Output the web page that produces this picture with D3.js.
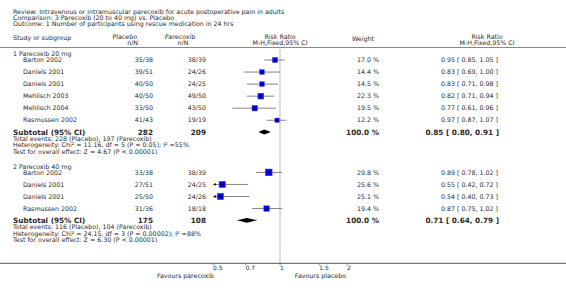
<!DOCTYPE html>
<html>
<head>
<meta charset="utf-8">
<style>
  body { margin: 0; background: #fff; }
  svg { display: block; font-family: "DejaVu Sans", Verdana, sans-serif; }
</style>
</head>
<body>
<script src="https://d3js.org/d3.v7.min.js"></script>
<svg width="566" height="293"></svg>
<script>
// 表头文字
const titleLines = [
  'Review:  Intravenous or intramuscular parecoxib for acute postoperative pain in adults',
  'Comparison:  3 Parecoxib (20 to 40 mg) vs. Placebo',
  'Outcome:  1 Number of participants using rescue medication in 24 hrs'
];

// 分组
const groupNames = ['1 Parecoxib 20 mg', '2 Parecoxib 40 mg'];
const groupPlaceboN = [282, 175];
const groupParecoxibN = [209, 108];
const groupRR = [0.85, 0.71];
const groupLow = [0.80, 0.64];
const groupHigh = [0.91, 0.79];
const groupNotes = [
  ['Total events: 228 (Placebo), 197 (Parecoxib)',
   'Heterogeneity: Chi\u00b2 = 11.16, df = 5 (P = 0.05); I\u00b2 =55%',
   'Test for overall effect: Z = 4.67 (P < 0.00001)'],
  ['Total events: 116 (Placebo), 104 (Parecoxib)',
   'Heterogeneity: Chi\u00b2 = 24.15, df = 3 (P = 0.00002); I\u00b2 =88%',
   'Test for overall effect: Z = 6.30 (P < 0.00001)']
];

// 研究
const studyNames = ['Barton 2002', 'Daniels 2001', 'Daniels 2001', 'Mehlisch 2003', 'Mehlisch 2004', 'Rasmussen 2002',
                    'Barton 2002', 'Daniels 2001', 'Daniels 2001', 'Rasmussen 2002'];
const studyGroup = [0, 0, 0, 0, 0, 0, 1, 1, 1, 1];
const placeboEvents = ['35/38', '39/51', '40/50', '40/50', '33/50', '41/43', '33/38', '27/51', '25/50', '31/36'];
const parecoxibEvents = ['38/39', '24/26', '24/25', '49/50', '43/50', '19/19', '38/39', '24/25', '24/26', '18/18'];
const weights = [17.0, 14.4, 14.5, 22.3, 19.5, 12.2, 29.8, 25.6, 25.1, 19.4];
const riskRatio = [0.95, 0.83, 0.83, 0.82, 0.77, 0.97, 0.89, 0.55, 0.54, 0.87];
const ciLow = [0.85, 0.69, 0.71, 0.71, 0.61, 0.87, 0.78, 0.42, 0.40, 0.75];
const ciHigh = [1.05, 1.00, 0.98, 0.94, 0.96, 1.07, 1.02, 0.72, 0.73, 1.02];

const axisTicks = [0.5, 0.7, 1, 1.5, 2];

const svg = d3.select('svg');
const textColor = '#2a2a2a';
const fs = 6.3;      // 正文字号
const fsBold = 7.3;  // 小计字号

const x = d3.scaleLog().domain([0.5, 2]).range([213, 347]);
const fmt = d3.format('.2f');

const txt = (t, xx, yy, opts = {}) => svg.append('text')
  .attr('x', xx).attr('y', yy).attr('dy', '0.35em')
  .attr('font-size', opts.size || fs)
  .attr('font-weight', opts.bold ? 'bold' : 'normal')
  .attr('text-anchor', opts.anchor || 'start')
  .attr('fill', textColor)
  .text(t);

// 标题
titleLines.forEach((t, i) => txt(t, 13, 11.7 + i * 6.2));

// 列标题
txt('Study or subgroup', 13, 37.3);
txt('Placebo', 137, 37, { anchor: 'end' });
txt('n/N', 138, 42.7, { anchor: 'end' });
txt('Parecoxib', 180, 37, { anchor: 'middle' });
txt('n/N', 183, 42.7, { anchor: 'middle' });
txt('Risk Ratio', 280, 37, { anchor: 'middle' });
txt('M-H,Fixed,95% CI', 280, 42.7, { anchor: 'middle' });
txt('Weight', 352, 38.3);
txt('Risk Ratio', 487, 37, { anchor: 'middle' });
txt('M-H,Fixed,95% CI', 487, 42.7, { anchor: 'middle' });

svg.append('line').attr('x1', 0).attr('x2', 566).attr('y1', 47.5).attr('y2', 47.5)
  .attr('stroke', '#888').attr('stroke-width', 1);

// 行布局
const rows = [];
let y = 54;
groupNames.forEach((g, gi) => {
  rows.push({ type: 'group', y, gi });
  y += 6;
  studyNames.forEach((s, i) => {
    if (studyGroup[i] !== gi) return;
    rows.push({ type: 'study', y, i });
    y += 12.05;
  });
  rows.push({ type: 'subtotal', y: y - 0.3, gi });
  y += 6.6;
  groupNotes[gi].forEach(n => { rows.push({ type: 'note', y, text: n }); y += 6.3; });
  y += 8.6;
});

// x=1 的参考线
svg.append('line').attr('x1', x(1)).attr('x2', x(1)).attr('y1', 49).attr('y2', 263)
  .attr('stroke', '#ddd').attr('stroke-width', 2);

rows.forEach(r => {
  if (r.type === 'group') {
    txt(groupNames[r.gi], 13, r.y);
  } else if (r.type === 'note') {
    txt(r.text, 13, r.y);
  } else if (r.type === 'study') {
    const i = r.i;
    txt(studyNames[i], 23, r.y);
    txt(placeboEvents[i], 153, r.y, { anchor: 'end' });
    txt(parecoxibEvents[i], 206, r.y, { anchor: 'end' });
    txt(weights[i].toFixed(1) + ' %', 379, r.y, { anchor: 'end' });
    txt(`${fmt(riskRatio[i])} [ ${fmt(ciLow[i])}, ${fmt(ciHigh[i])} ]`, 498, r.y, { anchor: 'end' });

    const lo = Math.max(ciLow[i], 0.5), hi = Math.min(ciHigh[i], 2);
    const side = 1.23 * Math.sqrt(weights[i]);
    svg.append('line')
      .attr('x1', x(lo)).attr('x2', x(hi)).attr('y1', r.y).attr('y2', r.y)
      .attr('stroke', '#666').attr('stroke-width', 0.8);
    if (ciLow[i] < 0.5) {
      const ax = x(0.5);
      svg.append('path')
        .attr('d', `M${ax},${r.y} L${ax + 3},${r.y - 1.4} L${ax + 3},${r.y + 1.4} Z`)
        .attr('fill', '#222');
    }
    svg.append('rect')
      .attr('x', x(riskRatio[i]) - side / 2).attr('y', r.y - side / 2)
      .attr('width', side).attr('height', side)
      .attr('fill', '#0000ff').attr('stroke', '#3b3bff').attr('stroke-width', 0.5);
    svg.append('line')
      .attr('x1', x(riskRatio[i])).attr('x2', x(riskRatio[i]))
      .attr('y1', r.y - 1.6).attr('y2', r.y + 1.6)
      .attr('stroke', '#000').attr('stroke-width', 0.7);
    svg.append('line')
      .attr('x1', x(riskRatio[i]) - 1.5).attr('x2', x(riskRatio[i]) + 1.5)
      .attr('y1', r.y).attr('y2', r.y)
      .attr('stroke', '#000').attr('stroke-width', 0.6);
  } else if (r.type === 'subtotal') {
    const gi = r.gi;
    txt('Subtotal (95% CI)', 13, r.y, { size: fsBold, bold: true });
    txt(groupPlaceboN[gi], 153, r.y, { size: fsBold, bold: true, anchor: 'end' });
    txt(groupParecoxibN[gi], 206, r.y, { size: fsBold, bold: true, anchor: 'end' });
    txt('100.0 %', 379, r.y, { size: fsBold, bold: true, anchor: 'end' });
    txt(`${fmt(groupRR[gi])} [ ${fmt(groupLow[gi])}, ${fmt(groupHigh[gi])} ]`, 499, r.y,
      { size: fsBold, bold: true, anchor: 'end' });
    const h = 2.4;
    svg.append('path')
      .attr('d', `M${x(groupLow[gi])},${r.y} L${x(groupRR[gi])},${r.y - h} L${x(groupHigh[gi])},${r.y} L${x(groupRR[gi])},${r.y + h} Z`)
      .attr('fill', '#000');
  }
});

// 坐标轴
const axisY = 263.3;
svg.append('line').attr('x1', 0).attr('x2', 566).attr('y1', axisY).attr('y2', axisY)
  .attr('stroke', '#555').attr('stroke-width', 1);
const tick = svg.append('g').selectAll('g').data(axisTicks).join('g')
  .attr('transform', d => `translate(${x(d)},${axisY})`);
tick.append('line').attr('y1', 0).attr('y2', 2).attr('stroke', '#555').attr('stroke-width', 0.6);
tick.append('text').attr('x', 0).attr('y', 4.3).attr('dy', '0.35em')
  .attr('font-size', 6).attr('fill', textColor)
  .text(d => d);

txt('Favours parecoxib', 214, 275.5, { anchor: 'end' });
txt('Favours placebo', 346, 275.5, { anchor: 'end' });
</script>
</body>
</html>
